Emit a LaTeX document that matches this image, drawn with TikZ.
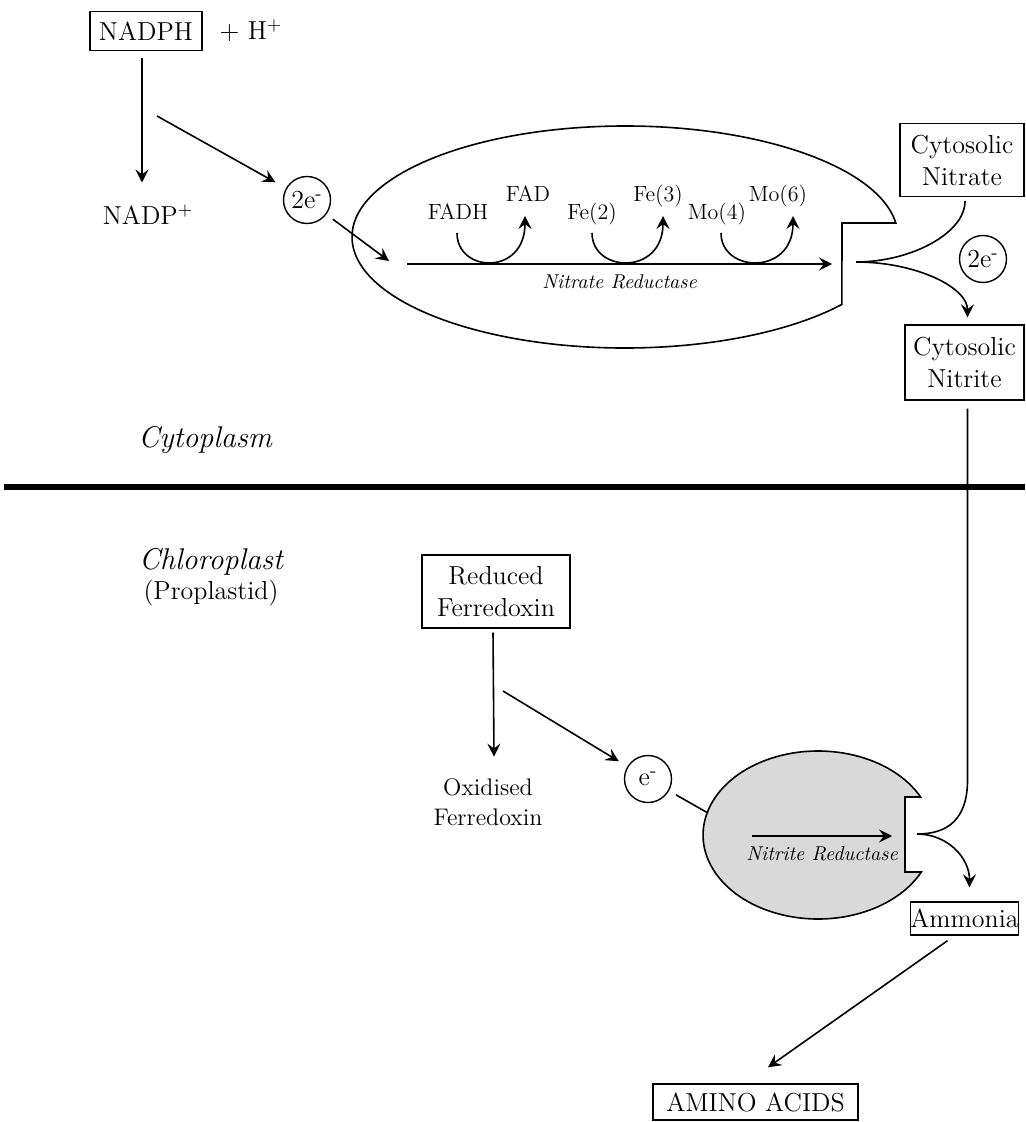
\documentclass[tikz,border=0pt]{standalone}
\usetikzlibrary{arrows.meta,positioning}

\begin{document}
\begin{tikzpicture}[x=0.5pt,y=-0.5pt,>={Stealth[length=6.5pt,width=6.5pt,inset=2.4pt]},line width=0.8pt,
    box/.style={draw,line width=0.7pt,align=center,inner sep=0pt,font=\fontsize{13}{16}\selectfont},
    lbl/.style={align=center,inner sep=1pt,font=\fontsize{13}{15}\selectfont},
    cof/.style={anchor=base,inner sep=0pt,font=\fontsize{11}{13}\selectfont},
    enz/.style={inner sep=1pt,font=\fontsize{10}{12}\itshape},
    elec/.style={circle,draw,line width=0.7pt,minimum size=23.5pt,inner sep=0pt,font=\fontsize{13}{15}\selectfont},
    region/.style={inner sep=1pt,font=\fontsize{15}{18}\itshape}]

    \useasboundingbox (0,0) rectangle (1025,1122);

    \node[box,minimum width=56pt,minimum height=19.5pt] (NADPH) at (146,31) {NADPH};

    \node[lbl] (hplus) [right=7pt of NADPH] {+ H$^+$};

    \node[lbl] (nadp) at (148,215) {NADP$^+$};

    \node[elec] (twoe1) at (307,200) {2e\textsuperscript{-}};

    \node[box,minimum width=62pt,minimum height=36.5pt] (nitrate) at (962,160) {Cytosolic\\Nitrate};

    \node[elec] (twoe2) at (983,259) {2e\textsuperscript{-}};

    \node[box,minimum width=59.5pt,minimum height=37.5pt] (nitrite) at (964.5,362.5) {Cytosolic\\Nitrite};

    \node[region] (cyto) at (205,440) {Cytoplasm};

    \node[region] (chloro) at (211,562) {Chloroplast};

    \node[lbl] (propl) at (211,593) {(Proplastid)};

    \node[box,minimum width=74pt,minimum height=36.5pt] (redfd) at (496,591.5) {Reduced\\Ferredoxin};

    \node[lbl,font=\fontsize{12}{15}\selectfont] (oxfd) at (488,802) {Oxidised\\Ferredoxin};

    \node[elec] (onee) at (648,779) {e\textsuperscript{-}};

    \node[box,minimum width=53.5pt,minimum height=16.5pt] (ammonia) at (964.5,918.5) {Ammonia};

    \node[box,minimum width=102.5pt,minimum height=18pt] (amino) at (755.5,1102) {AMINO ACIDS};

    \node[cof] (fadh) at (458,220) {FADH};
    \node[cof] (fad) at (528,202) {FAD};
    \node[cof] (fe2) at (592,220) {Fe(2)};
    \node[cof] (fe3) at (658,202) {Fe(3)};
    \node[cof] (mo4) at (717,220) {Mo(4)};
    \node[cof] (mo6) at (778,202) {Mo(6)};

    \draw[line width=0.8pt] (842,223) -- (895.8,223)
        arc[start angle=-7.25,end angle=-322.6,x radius=273,y radius=111] -- cycle;

    \draw[line width=0.8pt,fill=black!15] (905,797) -- (920.6,797)
        arc[start angle=-26.9,end angle=-333.86,x radius=115,y radius=84] -- (905,872) -- cycle;

    \draw[line width=2.6pt] (4,487) -- (1025,487);

    \coordinate (nadphfork) at (157,116);
    \coordinate (nrin) at (389,261);
    \coordinate (nrstart) at (407,264);
    \coordinate (nrend) at (832,264);
    \coordinate (cusp1) at (856,262);
    \coordinate (nitbend) at (967.5,780);
    \coordinate (cusp2) at (917,834);
    \coordinate (fdfork) at (503,691);
    \coordinate (nirin) at (708,813);
    \coordinate (nirstart) at (752,836);
    \coordinate (nirend) at (892,836);

    \draw[->] ([shift={(-4,7)}]NADPH.south) -- ([shift={(-6,-20)}]nadp.north);
    \draw[->,shorten >=6pt] (nadphfork) -- (twoe1);
    \draw[->,shorten <=4pt] (twoe1) -- (nrin);

    \draw[->] (nrstart) -- (nrend) node[enz,midway,below=4pt] {Nitrate Reductase};

    \foreach \a/\b/\s/\e in {fadh/fad/-1/-3,fe2/fe3/0/5,mo4/mo6/4/15}
        \draw[->] ([shift={(\s,13)}]\a.base) .. controls +(0,40) and +(0,60) .. ([shift={(\e,14)}]\b.base);

    \draw ([shift={(3,4)}]nitrate.south) .. controls +(0,32) and +(55,0) .. (cusp1);
    \draw[->] (cusp1) .. controls +(60,0) and +(0,-30) .. ([shift={(3,-7)}]nitrite.north);

    \draw ([shift={(3,8)}]nitrite.south) -- (nitbend) .. controls +(0,40) and +(30,0) .. (cusp2);
    \draw[->] (cusp2) .. controls +(30,0) and +(0,-30) .. ([shift={(5,-14)}]ammonia.north);

    \draw[->] ([shift={(-3,4)}]redfd.south) -- ([shift={(6,-19)}]oxfd.north);
    \draw[->,shorten >=5pt] (fdfork) -- (onee);
    \draw[shorten <=4pt] (onee) -- (nirin);

    \draw[->] (nirstart) -- (nirend) node[enz,midway,below=4pt] {Nitrite Reductase};

    \draw[->] ([shift={(-17,5)}]ammonia.south) -- ([shift={(12.5,-16)}]amino.north);

\end{tikzpicture}
\end{document}
